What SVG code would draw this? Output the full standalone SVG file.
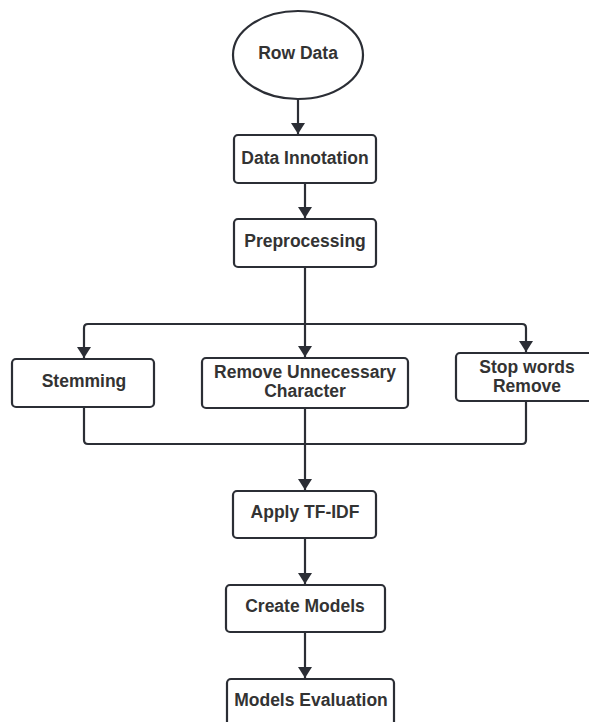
<svg xmlns="http://www.w3.org/2000/svg" width="589" height="722" viewBox="0 0 589 722">
<style>
.box{fill:#fff;stroke:#2b2e35;stroke-width:2.2}
.t{font-family:"Liberation Sans",Arial,sans-serif;font-weight:bold;font-size:17.5px;fill:#333;text-anchor:middle}
.c{fill:none;stroke:#2b2e35;stroke-width:2.2;stroke-linejoin:round}
</style>
<defs>
<marker id="ah" viewBox="0 0 11 14" refX="11" refY="7" markerWidth="11" markerHeight="14" markerUnits="userSpaceOnUse" orient="auto">
<path d="M0,0 L11,7 L0,14 Z" fill="#2b2e35"/>
</marker>
</defs>
<rect width="589" height="722" fill="#fff"/>
<g id="connectors">
<path class="c" d="M298,99 V134" marker-end="url(#ah)"/>
<path class="c" d="M305,183 V218" marker-end="url(#ah)"/>
<path class="c" d="M305,267 V357" marker-end="url(#ah)"/>
<path class="c" d="M305,324 H88 Q84,324 84,328 V358" marker-end="url(#ah)"/>
<path class="c" d="M305,324 H522 Q526,324 526,328 V352" marker-end="url(#ah)"/>
<path class="c" d="M84,407 V440 Q84,444 88,444 H522 Q526,444 526,440 V401"/>
<path class="c" d="M305,408 V490" marker-end="url(#ah)"/>
<path class="c" d="M305,538 V584" marker-end="url(#ah)"/>
<path class="c" d="M305,632 V678" marker-end="url(#ah)"/>
</g>
<g id="row-data">
<ellipse class="box" cx="298" cy="55" rx="65" ry="44"/>
<text class="t" x="298" y="59">Row Data</text>
</g>
<g id="data-innotation">
<rect class="box" x="234" y="135" width="142" height="48" rx="4"/>
<text class="t" x="305" y="164">Data Innotation</text>
</g>
<g id="preprocessing">
<rect class="box" x="234" y="219" width="142" height="48" rx="4"/>
<text class="t" x="305" y="247">Preprocessing</text>
</g>
<g id="stemming">
<rect class="box" x="12" y="359" width="142" height="48" rx="4"/>
<text class="t" x="84" y="387">Stemming</text>
</g>
<g id="remove-unnecessary">
<rect class="box" x="202" y="358" width="206" height="50" rx="4"/>
<text class="t" x="305" y="378">Remove Unnecessary</text>
<text class="t" x="305" y="397">Character</text>
</g>
<g id="stop-words">
<rect class="box" x="456" y="353" width="141" height="48" rx="4"/>
<text class="t" x="527" y="373">Stop words</text>
<text class="t" x="527" y="392">Remove</text>
</g>
<g id="apply-tfidf">
<rect class="box" x="233" y="491" width="143" height="47" rx="4"/>
<text class="t" x="305" y="518">Apply TF-IDF</text>
</g>
<g id="create-models">
<rect class="box" x="226" y="585" width="159" height="47" rx="4"/>
<text class="t" x="305" y="612">Create Models</text>
</g>
<g id="models-evaluation">
<rect class="box" x="227" y="679" width="167" height="50" rx="4"/>
<text class="t" x="311" y="706">Models Evaluation</text>
</g>
</svg>
